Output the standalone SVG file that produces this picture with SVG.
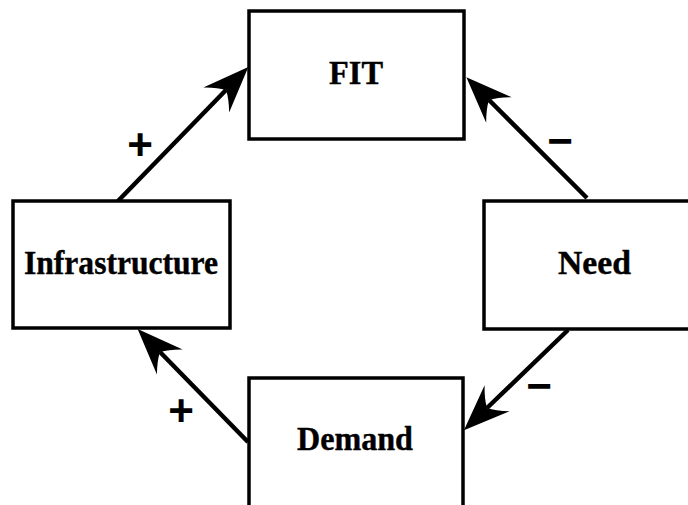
<svg xmlns="http://www.w3.org/2000/svg" width="688" height="505" viewBox="0 0 688 505">
  <style>
    .box { fill: #ffffff; stroke: #000000; stroke-width: 3.5; }
    .lbl { font-family: "Liberation Serif", "DejaVu Serif", serif; font-weight: bold; font-size: 33px; fill: #000000; stroke: #000000; stroke-width: 0.4; }
    .edge { stroke: #000000; stroke-width: 4.5; fill: none; marker-end: url(#head); }
    .sign { font-family: "Liberation Sans", "DejaVu Sans", sans-serif; font-weight: bold; font-size: 44px; fill: #000000; text-anchor: middle; }
  </style>
  <defs>
    <marker id="head" markerUnits="userSpaceOnUse" viewBox="-20 -22 56 44" markerWidth="56" markerHeight="44" refX="0" refY="0" orient="auto" overflow="visible">
      <path d="M32,0 L-14,-18 Q-4,-8 0,0 Q-4,8 -14,18 Z" fill="#000000"/>
    </marker>
  </defs>
  <rect width="688" height="505" fill="#ffffff"/>

  <g id="connectors">
    <line class="edge" x1="118" y1="201" x2="226" y2="90"/>
    <line class="edge" x1="587" y1="198" x2="489" y2="100"/>
    <line class="edge" x1="568" y1="330" x2="487" y2="408"/>
    <line class="edge" x1="248" y1="442" x2="160" y2="352"/>
    <text class="sign" x="140" y="160">+</text>
    <text class="sign" x="560" y="156">−</text>
    <text class="sign" x="539" y="401">−</text>
    <text class="sign" x="181" y="426">+</text>
  </g>

  <g id="fit">
    <rect class="box" x="249" y="11" width="215" height="128"/>
    <text class="lbl" x="329" y="84" textLength="54" lengthAdjust="spacingAndGlyphs">FIT</text>
  </g>
  <g id="infrastructure">
    <rect class="box" x="13" y="201" width="217" height="127"/>
    <text class="lbl" x="24" y="274" textLength="194" lengthAdjust="spacingAndGlyphs">Infrastructure</text>
  </g>
  <g id="need">
    <rect class="box" x="484" y="201" width="214" height="128"/>
    <text class="lbl" x="558" y="274" textLength="73" lengthAdjust="spacingAndGlyphs">Need</text>
  </g>
  <g id="demand">
    <rect class="box" x="249" y="378" width="214" height="140"/>
    <text class="lbl" x="297" y="450" textLength="116" lengthAdjust="spacingAndGlyphs">Demand</text>
  </g>
</svg>
